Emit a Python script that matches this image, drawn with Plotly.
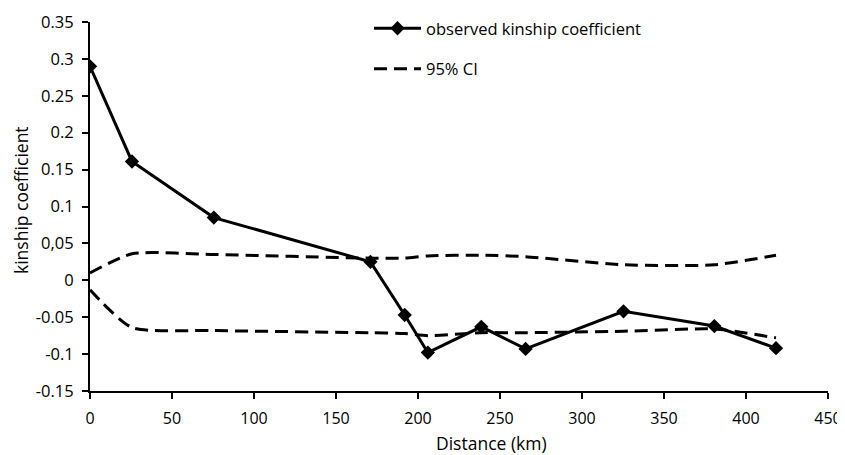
import plotly.graph_objects as go

distance = [0, 25.6, 75.5, 171, 191.9, 206, 238.6, 265.6, 325.3, 380.7, 418.3]
observed = [0.290, 0.161, 0.085, 0.025, -0.047, -0.098, -0.063, -0.093, -0.042, -0.062, -0.092]
ci_upper = [0.010, 0.036, 0.035, 0.030, 0.030, 0.033, 0.034, 0.032, 0.021, 0.021, 0.034]
ci_lower = [-0.013, -0.064, -0.068, -0.071, -0.072, -0.075, -0.071, -0.071, -0.069, -0.066, -0.078]

y_tickvals = [0.35, 0.3, 0.25, 0.2, 0.15, 0.1, 0.05, 0, -0.05, -0.1, -0.15]
y_ticktext = ["0.35", "0.3", "0.25", "0.2", "0.15", "0.1", "0,05", "0", "-0.05", "-0.1", "-0.15"]
x_tickvals = [0, 50, 100, 150, 200, 250, 300, 350, 400, 450]

FONT = "Open Sans"
dash = "13px,7px"

OFF = 8  # page body margin
W, H = 845 - OFF, 455 - OFF
# plot area in screen px: x 90..828, y 22..391
ML, MT = 90 - OFF, 22 - OFF
MR = W - (828 - OFF)
MB = H - (391 - OFF)
plot_w = W - ML - MR
plot_h = H - MT - MB


def px_x(sx):
    return (sx - OFF - ML) / plot_w


def px_y(sy):
    return (H - MB - (sy - OFF)) / plot_h


fig = go.Figure()
fig.add_trace(go.Scatter(
    x=distance, y=ci_upper, mode="lines", name="95% CI",
    line=dict(color="black", width=3, dash=dash, shape="spline", smoothing=0.6),
    legendgroup="ci", showlegend=True, legendrank=2,
))
fig.add_trace(go.Scatter(
    x=distance, y=ci_lower, mode="lines", name="95% CI",
    line=dict(color="black", width=3, dash=dash, shape="spline", smoothing=0.6),
    legendgroup="ci", showlegend=False,
))
fig.add_trace(go.Scatter(
    x=distance, y=observed, mode="lines+markers", name="observed kinship coefficient",
    line=dict(color="black", width=3),
    marker=dict(symbol="diamond", size=11, color="black"),
    legendgroup="obs", legendrank=1,
))

fig.update_layout(
    width=W, height=H,
    margin=dict(l=ML, r=MR, t=MT, b=MB, autoexpand=False),
    plot_bgcolor="white", paper_bgcolor="white",
    font=dict(family=FONT, size=16, color="black"),
    showlegend=True,
    legend=dict(x=px_x(369), y=px_y(11), xanchor="left", yanchor="top",
                bgcolor="rgba(0,0,0,0)", tracegroupgap=16,
                font=dict(family=FONT, size=16.5), itemwidth=47),
    xaxis=dict(range=[0, 450], tickvals=x_tickvals, showline=True, linecolor="black",
               linewidth=2, ticks="outside", ticklen=6, tickwidth=2, tickcolor="black",
               showgrid=False, zeroline=False, automargin=False, ticklabelstandoff=6,
               tickfont=dict(family=FONT, size=16)),
    yaxis=dict(range=[-0.15, 0.35], tickvals=y_tickvals, ticktext=y_ticktext, showline=True,
               linecolor="black", linewidth=2, ticks="outside", ticklen=6, tickwidth=2,
               tickcolor="black", showgrid=False, zeroline=False, automargin=False,
               ticklabelstandoff=5, tickfont=dict(family=FONT, size=16.5)),
    annotations=[
        dict(text="Distance (km)", xref="paper", yref="paper",
             x=px_x(491), y=px_y(443),
             xanchor="center", yanchor="middle", showarrow=False,
             font=dict(family=FONT, size=17.5)),
        dict(text="kinship coefficient", xref="paper", yref="paper",
             x=px_x(21), y=px_y(200),
             xanchor="center", yanchor="middle", textangle=-90, showarrow=False,
             font=dict(family=FONT, size=17.5)),
    ],
)

fig.write_html("out.html")
